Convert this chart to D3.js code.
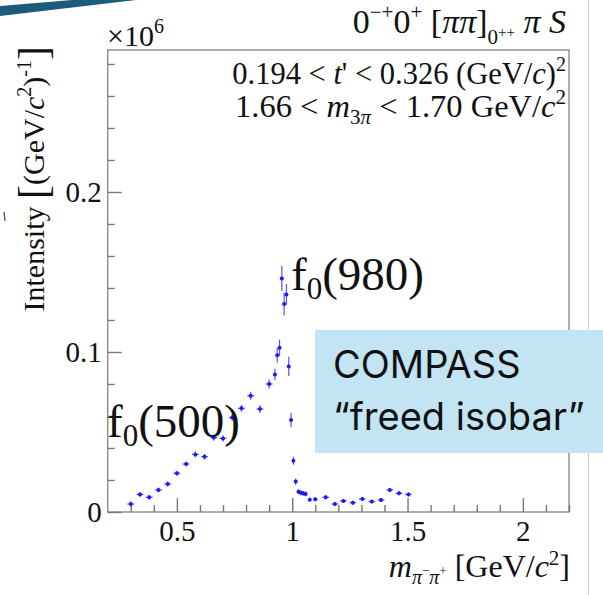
<!DOCTYPE html>
<html><head><meta charset="utf-8">
<script src="https://cdn.jsdelivr.net/npm/d3@7"></script>
<style>
html,body{margin:0;padding:0;background:#fff;}
svg{display:block;}
text{font-family:"Liberation Serif","Times New Roman",serif;fill:#111;}
text.sans{font-family:Inter,"Open Sans",sans-serif;}
</style></head>
<body>
<script>
// ---- data (intensity in units of 10^6) ----
const mass = [0.30,0.34,0.38,0.42,0.46,0.50,0.54,0.58,0.62,0.66,0.70,0.74,0.78,0.82,0.86,0.90,
  0.925,0.935,0.945,0.955,0.965,0.975,0.985,0.995,1.005,1.015,1.027,1.037,1.047,1.058,
  1.076,1.10,1.145,1.185,1.222,1.263,1.304,1.345,1.385,1.423,1.463,1.504];
const intensity = [0.0050,0.0110,0.0092,0.0138,0.0175,0.0242,0.0300,0.0360,0.0346,0.0465,0.0460,0.0590,0.0648,0.0727,0.0644,0.0800,
  0.0860,0.0980,0.1027,0.1460,0.1300,0.1360,0.0910,0.0575,0.0320,0.0190,0.0127,0.0120,0.0117,0.0113,
  0.0077,0.0079,0.0092,0.0050,0.0069,0.0058,0.0081,0.0065,0.0075,0.0138,0.0117,0.0110];
const errIntensity = [0.0015,0.0015,0.0015,0.0015,0.0015,0.0015,0.0015,0.0018,0.0018,0.0020,0.0020,0.0022,0.0022,0.0025,0.0025,0.0028,
  0.0035,0.0045,0.0050,0.0078,0.0070,0.0065,0.0060,0.0045,0.0025,0.0020,0.0015,0.0015,0.0015,0.0015,
  0.0012,0.0012,0.0012,0.0012,0.0012,0.0012,0.0012,0.0012,0.0012,0.0012,0.0012,0.0012];
const errMass = [0.015,0.015,0.015,0.015,0.015,0.015,0.015,0.015,0.015,0.015,0.015,0.015,0.015,0.015,0.015,0.015,
  0.004,0.004,0.004,0.004,0.004,0.004,0.004,0.004,0.004,0.004,0.004,0.004,0.004,0.004,
  0.008,0.010,0.015,0.015,0.015,0.015,0.015,0.015,0.015,0.015,0.015,0.015];
const xMajorTicks = [0.5,1,1.5,2];
const xTickLabels = ["0.5","1","1.5","2"];
const yMajorTicks = [0,0.1,0.2];
const yTickLabels = ["0","0.1","0.2"];
const xDomain = [0.2,2.2];
const yDomain = [0,0.28875];

const W=603,H=595;
const L=107.7,R=569,T=50,B=512;
const svg=d3.select("body").append("svg").attr("width",W).attr("height",H);

// slide decorations
svg.append("line").attr("x1",588.5).attr("x2",588.5).attr("y1",0).attr("y2",H)
  .attr("stroke","#cfcfcf").attr("stroke-width",1.2);
svg.append("path").attr("d","M0,6 L72,0 L136,0 L0,16 Z").attr("fill","#1d5b7c");
svg.append("line").attr("x1",4).attr("x2",5).attr("y1",212).attr("y2",221)
  .attr("stroke","#555").attr("stroke-width",1.3);

const x=d3.scaleLinear().domain(xDomain).range([L,R]);
const y=d3.scaleLinear().domain(yDomain).range([B,T]);

// frame
svg.append("rect").attr("x",L).attr("y",T).attr("width",R-L).attr("height",B-T)
  .attr("fill","none").attr("stroke","#8a8a8a").attr("stroke-width",1.4);

// axes
const xMinor=d3.range(0.3,2.2001,0.1).filter(v=>!xMajorTicks.some(t=>Math.abs(t-v)<1e-6));
const yMinor=d3.range(0.02,0.2881,0.02).filter(v=>!yMajorTicks.some(t=>Math.abs(t-v)<1e-6));
function styleAxis(g){g.select(".domain").remove();g.selectAll("line").attr("stroke","#777").attr("stroke-width",1.4);}
svg.append("g").attr("transform",`translate(0,${B})`)
  .call(d3.axisBottom(x).tickValues(xMinor).tickSize(-7).tickFormat(""))
  .call(styleAxis);
const gx=svg.append("g").attr("transform",`translate(0,${B})`)
  .call(d3.axisBottom(x).tickValues(xMajorTicks).tickSize(-14).tickPadding(22)
    .tickFormat((d,i)=>xTickLabels[i]))
  .call(styleAxis);
gx.selectAll("text").style("font-size","29px").style("fill","#111").attr("dy","0.71em").attr("y",8);
svg.append("g").attr("transform",`translate(${L},0)`)
  .call(d3.axisLeft(y).tickValues(yMinor).tickSize(-7).tickFormat(""))
  .call(styleAxis);
const gy=svg.append("g").attr("transform",`translate(${L},0)`)
  .call(d3.axisLeft(y).tickValues(yMajorTicks).tickSize(-14).tickPadding(6)
    .tickFormat((d,i)=>yTickLabels[i]))
  .call(styleAxis);
gy.selectAll("text").style("font-size","29px").style("fill","#111").attr("x",-6);

// data
const pts=mass.map((m,i)=>({m,v:intensity[i],ey:errIntensity[i],ex:errMass[i]}));
const blue="#1a1aff";
const gd=svg.append("g");
gd.selectAll("line.ey").data(pts).join("line").attr("class","ey")
  .attr("x1",d=>x(d.m)).attr("x2",d=>x(d.m)).attr("y1",d=>y(d.v-d.ey)).attr("y2",d=>y(d.v+d.ey))
  .attr("stroke",blue).attr("stroke-width",1.2).attr("opacity",0.75);
gd.selectAll("line.ex").data(pts).join("line").attr("class","ex")
  .attr("x1",d=>x(d.m-d.ex)).attr("x2",d=>x(d.m+d.ex)).attr("y1",d=>y(d.v)).attr("y2",d=>y(d.v))
  .attr("stroke",blue).attr("stroke-width",1.2).attr("opacity",0.75);
gd.selectAll("circle").data(pts).join("circle")
  .attr("cx",d=>x(d.m)).attr("cy",d=>y(d.v)).attr("r",2).attr("fill",blue);

// ×10^6
const t6=svg.append("text").attr("x",107).attr("y",46).style("font-size","30px");
t6.append("tspan").text("×10");
t6.append("tspan").style("font-size","20px").attr("dy",-13).text("6");

// title
const tt=svg.append("text").attr("x",566).attr("y",33).attr("text-anchor","end").style("font-size","34px");
tt.append("tspan").text("0");
tt.append("tspan").style("font-size","21px").attr("dy",-14).text("−+");
tt.append("tspan").attr("dy",14).text("0");
tt.append("tspan").style("font-size","21px").attr("dy",-14).text("+");
tt.append("tspan").attr("dy",14).text(" [");
tt.append("tspan").style("font-style","italic").text("ππ");
tt.append("tspan").text("]");
tt.append("tspan").style("font-size","21px").attr("dy",11).text("0");
tt.append("tspan").style("font-size","15px").attr("dy",-7).text("++");
tt.append("tspan").attr("dy",-4).text(" ");
tt.append("tspan").style("font-style","italic").text("π S");

// kinematic ranges
const l1=svg.append("text").attr("x",566).attr("y",84).attr("text-anchor","end").style("font-size","30.5px");
l1.append("tspan").text("0.194 < ");
l1.append("tspan").style("font-style","italic").text("t");
l1.append("tspan").text("' < 0.326 (GeV/");
l1.append("tspan").style("font-style","italic").text("c");
l1.append("tspan").text(")");
l1.append("tspan").style("font-size","20px").attr("dy",-13).text("2");
const l2=svg.append("text").attr("x",566).attr("y",117).attr("text-anchor","end").style("font-size","32.5px");
l2.append("tspan").text("1.66 < ");
l2.append("tspan").style("font-style","italic").text("m");
l2.append("tspan").style("font-size","21px").attr("dy",7).text("3");
l2.append("tspan").style("font-size","21px").style("font-style","italic").text("π");
l2.append("tspan").attr("dy",-7).text(" < 1.70 GeV/");
l2.append("tspan").style("font-style","italic").text("c");
l2.append("tspan").style("font-size","21px").attr("dy",-13).text("2");

// x axis title
const xt=svg.append("text").attr("x",570).attr("y",577).attr("text-anchor","end").style("font-size","32px");
xt.append("tspan").style("font-style","italic").text("m");
xt.append("tspan").style("font-size","20px").style("font-style","italic").attr("dy",7).text("π");
xt.append("tspan").style("font-size","13px").attr("dy",-9).text("−");
xt.append("tspan").style("font-size","20px").style("font-style","italic").attr("dy",9).text("π");
xt.append("tspan").style("font-size","13px").attr("dy",-9).text("+");
xt.append("tspan").attr("dy",2).text(" [GeV/");
xt.append("tspan").style("font-style","italic").text("c");
xt.append("tspan").style("font-size","21px").attr("dy",-12).text("2");
xt.append("tspan").attr("dy",12).text("]");

// y axis title
const yt=svg.append("text").attr("transform","translate(44,46) rotate(-90)").attr("text-anchor","end").style("font-size","30px");
yt.append("tspan").text("Intensity ");
yt.append("tspan").style("font-size","42px").attr("dy",3).text("[");
yt.append("tspan").attr("dy",-3).text("(GeV/");
yt.append("tspan").style("font-style","italic").text("c");
yt.append("tspan").style("font-size","20px").attr("dy",-13).text("2");
yt.append("tspan").attr("dy",13).text(")");
yt.append("tspan").style("font-size","20px").attr("dy",-13).text("-1");
yt.append("tspan").style("font-size","42px").attr("dy",16).text("]");

// resonance labels
function resLabel(px,py,name){
  const t=svg.append("text").attr("x",px).attr("y",py).style("font-size","47px");
  t.append("tspan").text("f");
  t.append("tspan").style("font-size","31px").attr("dy",9).text("0");
  t.append("tspan").attr("dy",-9).text(name);
}
resLabel(291,290,"(980)");
resLabel(107,437,"(500)");

// COMPASS box
svg.append("rect").attr("x",315).attr("y",330).attr("width",300).attr("height",123).attr("fill","#c2e4f3");
const bt=svg.append("text").attr("class","sans").style("font-size","38px").style("fill","#111");
bt.append("tspan").attr("x",333).attr("y",378).text("COMPASS");
bt.append("tspan").attr("x",333).attr("y",430).text("“freed isobar”");
</script>
</body></html>
